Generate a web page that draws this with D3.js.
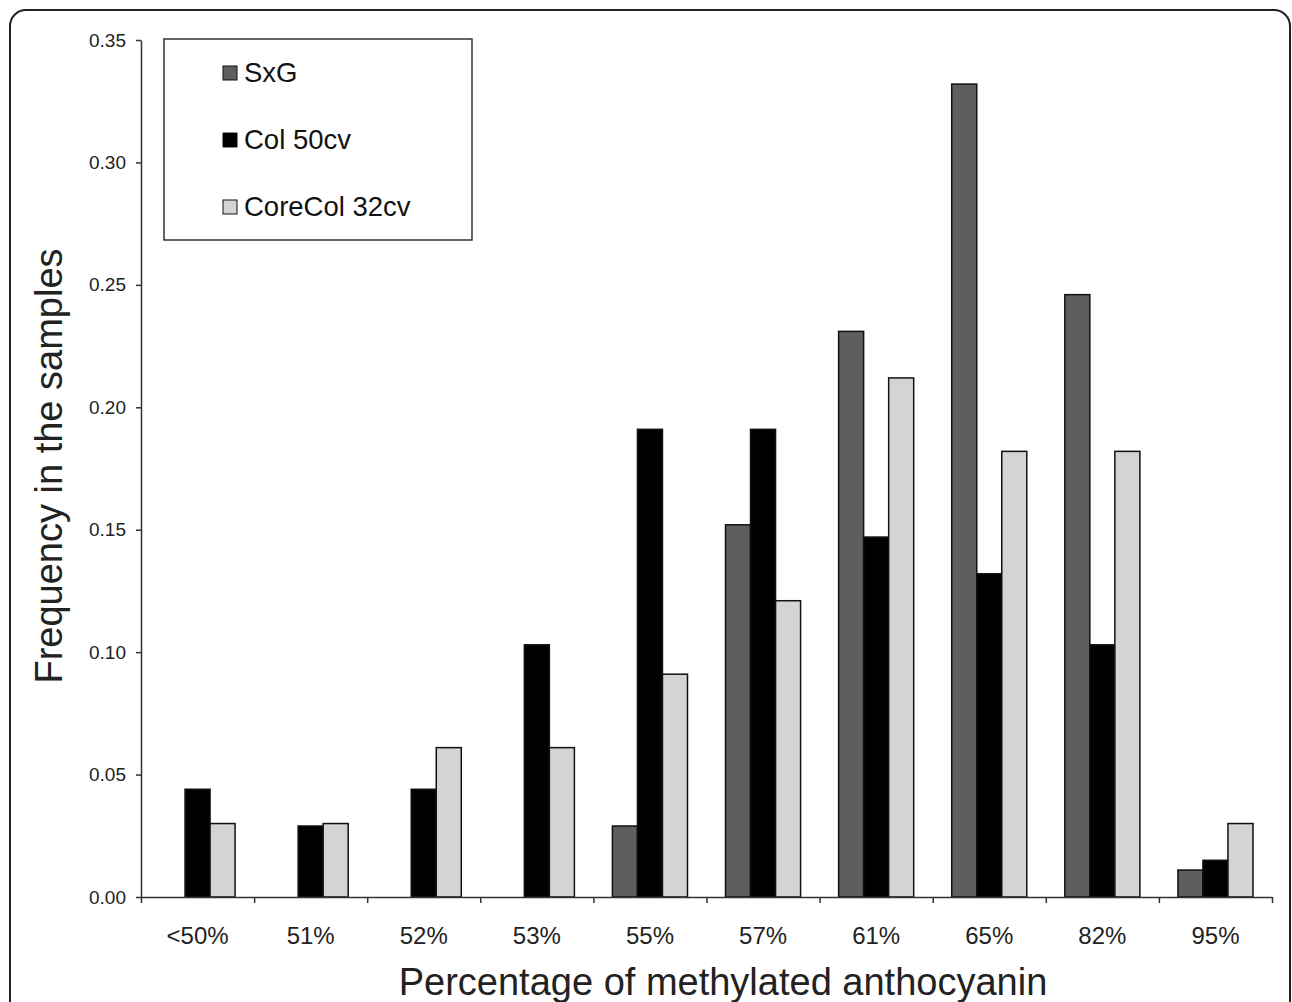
<!DOCTYPE html>
<html>
<head>
<meta charset="utf-8">
<script src="https://cdn.jsdelivr.net/npm/d3@7"></script>
<style>
  body { margin: 0; background: #fff; }
  svg { display: block; font-family: "Liberation Sans", Arial, sans-serif; }
</style>
</head>
<body>
<div id="chart"></div>
<script>
// data
var categories = ["<50%", "51%", "52%", "53%", "55%", "57%", "61%", "65%", "82%", "95%"];
var seriesNames = ["SxG", "Col 50cv", "CoreCol 32cv"];
var sxgValues = [0, 0, 0, 0, 0.029, 0.152, 0.231, 0.332, 0.246, 0.011];
var colValues = [0.044, 0.029, 0.044, 0.103, 0.191, 0.191, 0.147, 0.132, 0.103, 0.015];
var coreColValues = [0.030, 0.030, 0.061, 0.061, 0.091, 0.121, 0.212, 0.182, 0.182, 0.030];
var yTicks = [0, 0.05, 0.10, 0.15, 0.20, 0.25, 0.30, 0.35];

var seriesColors = ["#5e5e5e", "#000000", "#d4d4d4"];

var width = 1292, height = 1002;
var margin = { top: 40, right: 20, bottom: 105, left: 141 };
var plotW = 1272 - margin.left;
var plotH = 897 - margin.top;

var svg = d3.select("#chart").append("svg")
  .attr("width", width)
  .attr("height", height);

// outer rounded frame
svg.append("rect")
  .attr("x", 10).attr("y", 10)
  .attr("width", 1280).attr("height", 1020)
  .attr("rx", 16)
  .attr("fill", "none")
  .attr("stroke", "#222")
  .attr("stroke-width", 2);

var g = svg.append("g")
  .attr("transform", "translate(" + margin.left + "," + margin.top + ")");

// scales
var x0 = d3.scaleBand().domain(categories).range([0, plotW]).padding(0);
var x1 = d3.scaleBand().domain(seriesNames).range([0, x0.bandwidth()])
  .paddingInner(0).paddingOuter(0.76);
var y = d3.scaleLinear().domain([0, 0.35]).range([plotH, 0]);

// bars
var rows = categories.map(function (c, i) {
  return { cat: c, values: [sxgValues[i], colValues[i], coreColValues[i]] };
});

var groups = g.selectAll(".grp")
  .data(rows)
  .enter().append("g")
  .attr("class", "grp")
  .attr("transform", function (d) { return "translate(" + x0(d.cat) + ",0)"; });

groups.selectAll("rect")
  .data(function (d) {
    return d.values.map(function (v, j) { return { name: seriesNames[j], value: v, idx: j }; })
      .filter(function (b) { return b.value > 0; });
  })
  .enter().append("rect")
  .attr("x", function (d) { return x1(d.name); })
  .attr("y", function (d) { return y(d.value); })
  .attr("width", x1.bandwidth())
  .attr("height", function (d) { return plotH - y(d.value); })
  .attr("fill", function (d) { return seriesColors[d.idx]; })
  .attr("stroke", "#111")
  .attr("stroke-width", 1.5);

// y axis
var yAxis = g.append("g")
  .call(d3.axisLeft(y).tickValues(yTicks).tickFormat(d3.format(".2f")).tickSize(5).tickSizeOuter(0));
yAxis.select(".domain").attr("stroke", "#333").attr("stroke-width", 1.5);
yAxis.selectAll(".tick line").attr("stroke", "#333").attr("stroke-width", 1.5);
yAxis.selectAll(".tick text")
  .attr("x", -15)
  .attr("fill", "#222")
  .style("font-size", "19px");

// x axis: tick marks at band edges, labels at centers
var edges = d3.scaleLinear().domain([0, categories.length]).range([0, plotW]);
var xAxis = g.append("g")
  .attr("transform", "translate(0," + plotH + ")")
  .call(d3.axisBottom(edges).tickValues(d3.range(categories.length + 1)).tickFormat("").tickSize(6).tickSizeOuter(0));
xAxis.select(".domain").attr("stroke", "#333").attr("stroke-width", 1.5);
xAxis.selectAll(".tick line").attr("stroke", "#333").attr("stroke-width", 1.5);

var xLabels = g.append("g")
  .attr("transform", "translate(0," + plotH + ")")
  .call(d3.axisBottom(x0).tickSize(0).tickPadding(30));
xLabels.select(".domain").remove();
xLabels.selectAll(".tick text")
  .attr("fill", "#222")
  .style("font-size", "24px");

// axis titles
svg.append("text")
  .attr("x", 723).attr("y", 995)
  .attr("text-anchor", "middle")
  .attr("fill", "#222")
  .style("font-size", "38px")
  .text("Percentage of methylated anthocyanin");

svg.append("text")
  .attr("transform", "translate(62,466) rotate(-90)")
  .attr("text-anchor", "middle")
  .attr("fill", "#222")
  .style("font-size", "38px")
  .text("Frequency in the samples");

// legend
var legend = svg.append("g").attr("transform", "translate(164,39)");
legend.append("rect")
  .attr("width", 308).attr("height", 201)
  .attr("fill", "#fff")
  .attr("stroke", "#333")
  .attr("stroke-width", 1.5);

var items = legend.selectAll(".item")
  .data(seriesNames)
  .enter().append("g")
  .attr("class", "item")
  .attr("transform", function (d, i) { return "translate(59," + (27 + i * 67) + ")"; });

items.append("rect")
  .attr("width", 14).attr("height", 14)
  .attr("fill", function (d, i) { return seriesColors[i]; })
  .attr("stroke", "#111")
  .attr("stroke-width", 1);

items.append("text")
  .attr("x", 21).attr("y", 16)
  .attr("fill", "#111")
  .style("font-size", "27.5px")
  .text(function (d) { return d; });
</script>
</body>
</html>
